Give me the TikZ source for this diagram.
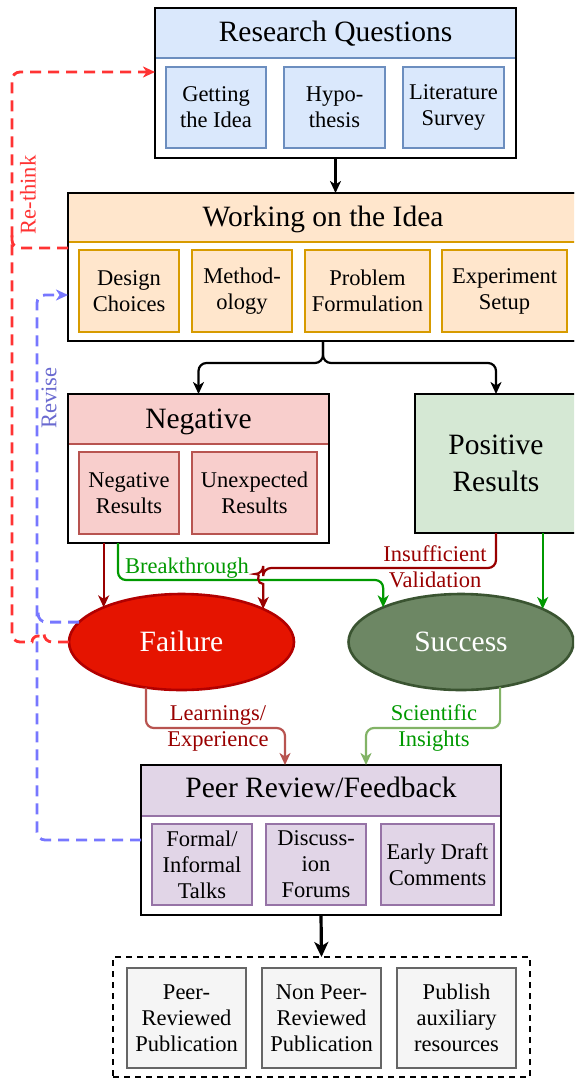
\documentclass[tikz,border=0pt]{standalone}
\usepackage{fontspec}
\setmainfont{Liberation Serif}
\usetikzlibrary{arrows.meta,shapes.geometric,calc}
\definecolor{bfill}{HTML}{DAE8FC}\definecolor{bline}{HTML}{6C8EBF}
\definecolor{ofill}{HTML}{FFE6CC}\definecolor{oline}{HTML}{D79B00}
\definecolor{rfill}{HTML}{F8CECC}\definecolor{rline}{HTML}{B85450}
\definecolor{gfill}{HTML}{D5E8D4}\definecolor{gline}{HTML}{82B366}
\definecolor{pfill}{HTML}{E1D5E7}\definecolor{pline}{HTML}{9673A6}
\definecolor{kfill}{HTML}{F5F5F5}\definecolor{kline}{HTML}{666666}
\definecolor{failfill}{HTML}{E51400}\definecolor{failline}{HTML}{B20000}
\definecolor{succfill}{HTML}{6D8764}\definecolor{succline}{HTML}{3A5431}
\definecolor{dred}{HTML}{990000}\definecolor{dgreen}{HTML}{009900}
\definecolor{rethink}{HTML}{FF3333}\definecolor{revise}{HTML}{7777FF}
\definecolor{revisetxt}{HTML}{6A6AD0}
\newcommand\ttlfont{\fontsize{29.5}{37}\selectfont}
\newcommand\innfont{\fontsize{22.5}{26}\selectfont}
\tikzset{
  outerbox/.style={draw=black, line width=2.6pt, fill=white, inner sep=0pt, outer sep=0pt},
  hdr/.style={inner sep=0pt, outer sep=0pt, anchor=north, font=\ttlfont, text height=21pt, text depth=3pt},
  inbox/.style={draw, line width=2pt, inner sep=0pt, outer sep=0pt, align=center, font=\innfont},
  lbl/.style={font=\innfont, align=center, inner sep=0pt},
  tip/.style={-{Stealth[length=12pt,width=11pt,inset=3.5pt]}},
  arr/.style={tip, line width=2.2pt, rounded corners=8pt},
  redd/.style={draw=rethink, line width=2.8pt, dash pattern=on 11pt off 7pt, rounded corners=8pt},
  blued/.style={draw=revise, line width=2.8pt, dash pattern=on 11pt off 7pt, rounded corners=8pt},
  oval/.style={ellipse, line width=2.6pt, minimum width=225pt, minimum height=96pt, inner sep=0pt, outer sep=0pt, text=white, font=\ttlfont, text height=21pt, text depth=3pt},
}
\begin{document}
\begin{tikzpicture}[x=1pt,y=1pt]
\useasboundingbox (0,0) rectangle (574,-1081);
\fill[white] (0,0) rectangle (574,-1081);
\clip (0,0) rectangle (574,-1081);

% Research Questions
\node[outerbox, minimum width=361pt, minimum height=150pt] (rq) at (335.5,-83) {};
\node[hdr, fill=bfill, minimum width=361pt, minimum height=50pt] (rqt) at (rq.north) {Research Questions};
\draw[bline, line width=2pt] (rqt.south west) -- (rqt.south east);
\draw[line width=2.6pt] (rq.north west) rectangle (rq.south east);
\node[inbox, draw=bline, fill=bfill, minimum width=100pt, minimum height=81pt] (rq1) at (216,-107.5) {Getting\\the Idea};
\node[inbox, draw=bline, fill=bfill, minimum width=101pt, minimum height=81pt] (rq2) at (334.5,-107.5) {Hypo-\\thesis};
\node[inbox, draw=bline, fill=bfill, minimum width=101pt, minimum height=81pt] (rq3) at (453.5,-107.5) {Literature\\Survey};

% Working on the Idea
\node[outerbox, minimum width=510pt, minimum height=148pt] (wk) at (323,-267) {};
\node[hdr, fill=ofill, minimum width=510pt, minimum height=49pt] (wkt) at (wk.north) {Working on the Idea};
\draw[oline, line width=2pt] (wkt.south west) -- (wkt.south east);
\draw[line width=2.6pt] (wk.north west) rectangle (wk.south east);
\node[inbox, draw=oline, fill=ofill, minimum width=100pt, minimum height=82pt] (wk1) at (129,-291) {Design\\Choices};
\node[inbox, draw=oline, fill=ofill, minimum width=100pt, minimum height=82pt] (wk2) at (242,-291) {Method-\\ology};
\node[inbox, draw=oline, fill=ofill, minimum width=125pt, minimum height=82pt] (wk3) at (367.5,-291) {Problem\\Formulation};
\node[inbox, draw=oline, fill=ofill, minimum width=125pt, minimum height=82pt] (wk4) at (504.5,-291) {Experiment\\Setup};

% Negative
\node[outerbox, minimum width=261pt, minimum height=149pt] (neg) at (198.5,-468.5) {};
\node[hdr, fill=rfill, minimum width=261pt, minimum height=50pt] (negt) at (neg.north) {Negative};
\draw[rline, line width=2pt] (negt.south west) -- (negt.south east);
\draw[line width=2.6pt] (neg.north west) rectangle (neg.south east);
\node[inbox, draw=rline, fill=rfill, minimum width=100pt, minimum height=82pt] (neg1) at (129,-493) {Negative\\Results};
\node[inbox, draw=rline, fill=rfill, minimum width=125pt, minimum height=82pt] (neg2) at (254.5,-493) {Unexpected\\Results};

% Positive
\node[draw=black, line width=2.6pt, fill=gfill, minimum width=162pt, minimum height=139pt, inner sep=0pt, outer sep=0pt, align=center, font=\ttlfont] (pos) at (496,-463.5) {Positive\\Results};

% Failure / Success
\node[oval, draw=failline, fill=failfill] (fail) at (181.5,-642) {Failure};
\node[oval, draw=succline, fill=succfill] (succ) at (461,-642) {Success};

% Peer Review
\node[outerbox, minimum width=360pt, minimum height=150pt] (peer) at (321,-840) {};
\node[hdr, fill=pfill, minimum width=360pt, minimum height=51pt, text height=19pt, text depth=5pt] (peert) at (peer.north) {Peer Review/Feedback};
\draw[pline, line width=2pt] (peert.south west) -- (peert.south east);
\draw[line width=2.6pt] (peer.north west) rectangle (peer.south east);
\node[inbox, draw=pline, fill=pfill, minimum width=100pt, minimum height=81pt] (pr1) at (202,-864.5) {Formal/\\Informal\\Talks};
\node[inbox, draw=pline, fill=pfill, minimum width=100pt, minimum height=81pt] (pr2) at (316,-864.5) {Discuss-\\ion\\Forums};
\node[inbox, draw=pline, fill=pfill, minimum width=113pt, minimum height=81pt] (pr3) at (437.5,-864.5) {Early Draft\\Comments};

% Publication
\node[draw=black, line width=2.2pt, dash pattern=on 6pt off 5pt, minimum width=417pt, minimum height=120pt, inner sep=0pt, outer sep=0pt] (pub) at (321.5,-1017) {};
\node[inbox, draw=kline, fill=kfill, minimum width=119pt, minimum height=100pt] (pub1) at (186.5,-1018) {Peer-\\Reviewed\\Publication};
\node[inbox, draw=kline, fill=kfill, minimum width=119pt, minimum height=100pt] (pub2) at (321.5,-1018) {Non Peer-\\Reviewed\\Publication};
\node[inbox, draw=kline, fill=kfill, minimum width=119pt, minimum height=100pt] (pub3) at (456.5,-1018) {Publish\\auxiliary\\resources};

% Connectors
\draw[arr] (rq.south) -- (rq.south |- wk.north);
\draw[arr] (wk.south) -- ++(0,-22) -| (neg.north);
\draw[arr] (wk.south) -- ++(0,-22) -| (pos.north);
\draw[arr, dred] (neg.south -| fail.156.6) -- (fail.156.6);
\draw[arr, dgreen] ([xshift=-80.5pt]neg.south) -- ++(0,-37) -| (succ.156.6);
\coordinate (jmp) at ($(fail.22.6 |- pos.south)+(0,-41)$);
\draw[tip, dred, line width=2.2pt] (pos.south) [rounded corners=8pt] -- ++(0,-35) -| (jmp) [sharp corners] arc[start angle=90, end angle=270, radius=5] -- (fail.22.6);
\draw[arr, dgreen] (pos.south -| succ.22.8) -- (succ.22.8);
\draw[arr, rline] (fail.232) -- ++(0,-40.5) -| ([xshift=-36pt]peer.north);
\draw[arr, gline] (succ.311.7) -- ++(0,-41) -| ([xshift=45pt]peer.north);
\draw[-{Stealth[length=15pt,width=14pt,inset=4pt]}, line width=3.2pt] (peer.south) -- (pub.north);

% Labels
\node[lbl, text=dgreen, anchor=base] (lbrk) at (187,-573) {Breakthrough};
\node[lbl, text=dred] (lins) at (435,-567) {Insufficient\\Validation};
\node[lbl, text=dred] (llrn) at (218,-728) {Learnings/\\Experience};
\node[lbl, text=dgreen] (lsci) at (434,-728) {Scientific\\Insights};

% Re-think (red dashed)
\draw[redd, tip] (fail.west) -- ++(-25,0) [sharp corners] arc[start angle=0, end angle=180, radius=6] [rounded corners=8pt] -- ++(-20,0) |- ([yshift=11pt]rq.west);
\draw[redd] ([yshift=19pt]wk.west) -- ++(-56,0) -- ++(0,16);
\node[rotate=90, text=rethink, font=\innfont, inner sep=0pt] (lrt) at (28,-195) {Re-think};

% Revise (blue dashed)
\draw[blued, tip] (peer.west) -- ++(-104,0) |- ([yshift=-28pt]wk.west);
\draw[blued] (fail.169.6) -- ++(-41,0) -- ++(0,14);
\node[rotate=90, text=revisetxt, font=\innfont, inner sep=0pt] (lrv) at (49,-398) {Revise};
\end{tikzpicture}
\end{document}
